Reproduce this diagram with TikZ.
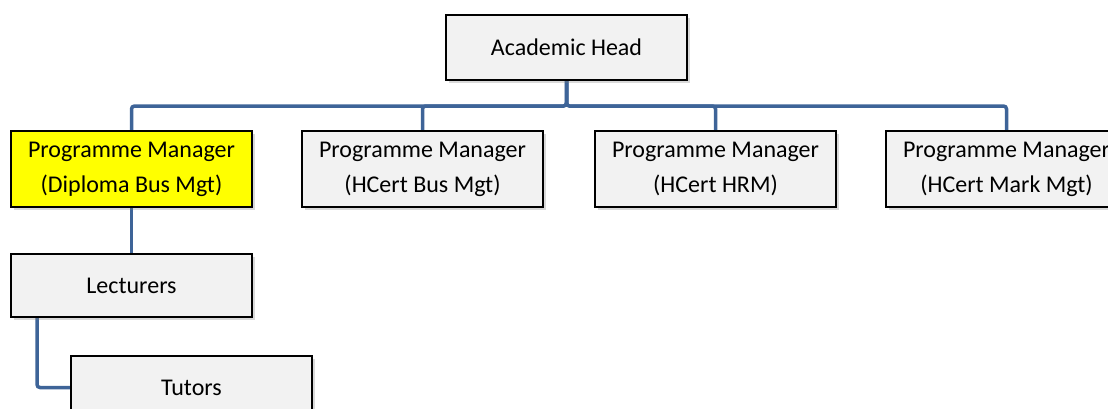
\documentclass[tikz,border=0pt]{standalone}
\usepackage{fontspec}
\setmainfont{Carlito}
\usepackage{tikz}
\usetikzlibrary{positioning, shadows, backgrounds}

\definecolor{linkblue}{RGB}{62,100,152}
\definecolor{boxgray}{RGB}{242,242,242}
\definecolor{hiyellow}{RGB}{255,255,0}

\begin{document}
\begin{tikzpicture}[
    x=1pt, y=1pt,
    font=\fontsize{24}{35}\selectfont,
    node distance=48pt and 48pt,
    orgbox/.style={
      draw=black, line width=2pt, fill=boxgray,
      minimum width=241pt, minimum height=76pt,
      align=center, inner sep=2pt,
      drop shadow={opacity=0.3, shadow xshift=2.5pt, shadow yshift=-2.5pt}
    },
    link/.style={draw=linkblue, line width=3.5pt, rounded corners=3pt}
  ]
  \useasboundingbox (0,0) rectangle (1108,-408);

  \node[orgbox, minimum height=65pt]   at (566.5,-47.5) (head) {Academic Head};
  \node[orgbox, fill=hiyellow]         at (131.5,-169)  (pmdip) {Programme Manager\\(Diploma Bus Mgt)};
  \node[orgbox, right=48pt of pmdip]   (pmbus)  {Programme Manager\\(HCert Bus Mgt)};
  \node[orgbox, right=50pt of pmbus]   (pmhrm)  {Programme Manager\\(HCert HRM)};
  \node[orgbox, right=48pt of pmhrm]   (pmmark) {Programme Manager\\(HCert Mark Mgt)};
  \node[orgbox, minimum height=63pt, below=45pt of pmdip] (lect) {Lecturers};
  \node[orgbox, minimum height=63pt, below=37pt of lect, xshift=60pt] (tut) {Tutors};

  % connectors, drawn under the boxes
  \begin{pgfonlayer}{background}
    \draw[link] (head.south) -- ++(0,-25) -| (pmdip.north);
    \draw[link] (head.south) -- ++(0,-25) -| (pmmark.north);
    \draw[link] (head.south) -- ++(0,-25) -| (pmbus.north);
    \draw[link] (head.south) -- ++(0,-25) -| (pmhrm.north);
    \draw[link] (pmdip.south) -- (lect.north);
    \draw[link] ([xshift=27pt]lect.south west) |- (tut.west);
  \end{pgfonlayer}
\end{tikzpicture}
\end{document}
